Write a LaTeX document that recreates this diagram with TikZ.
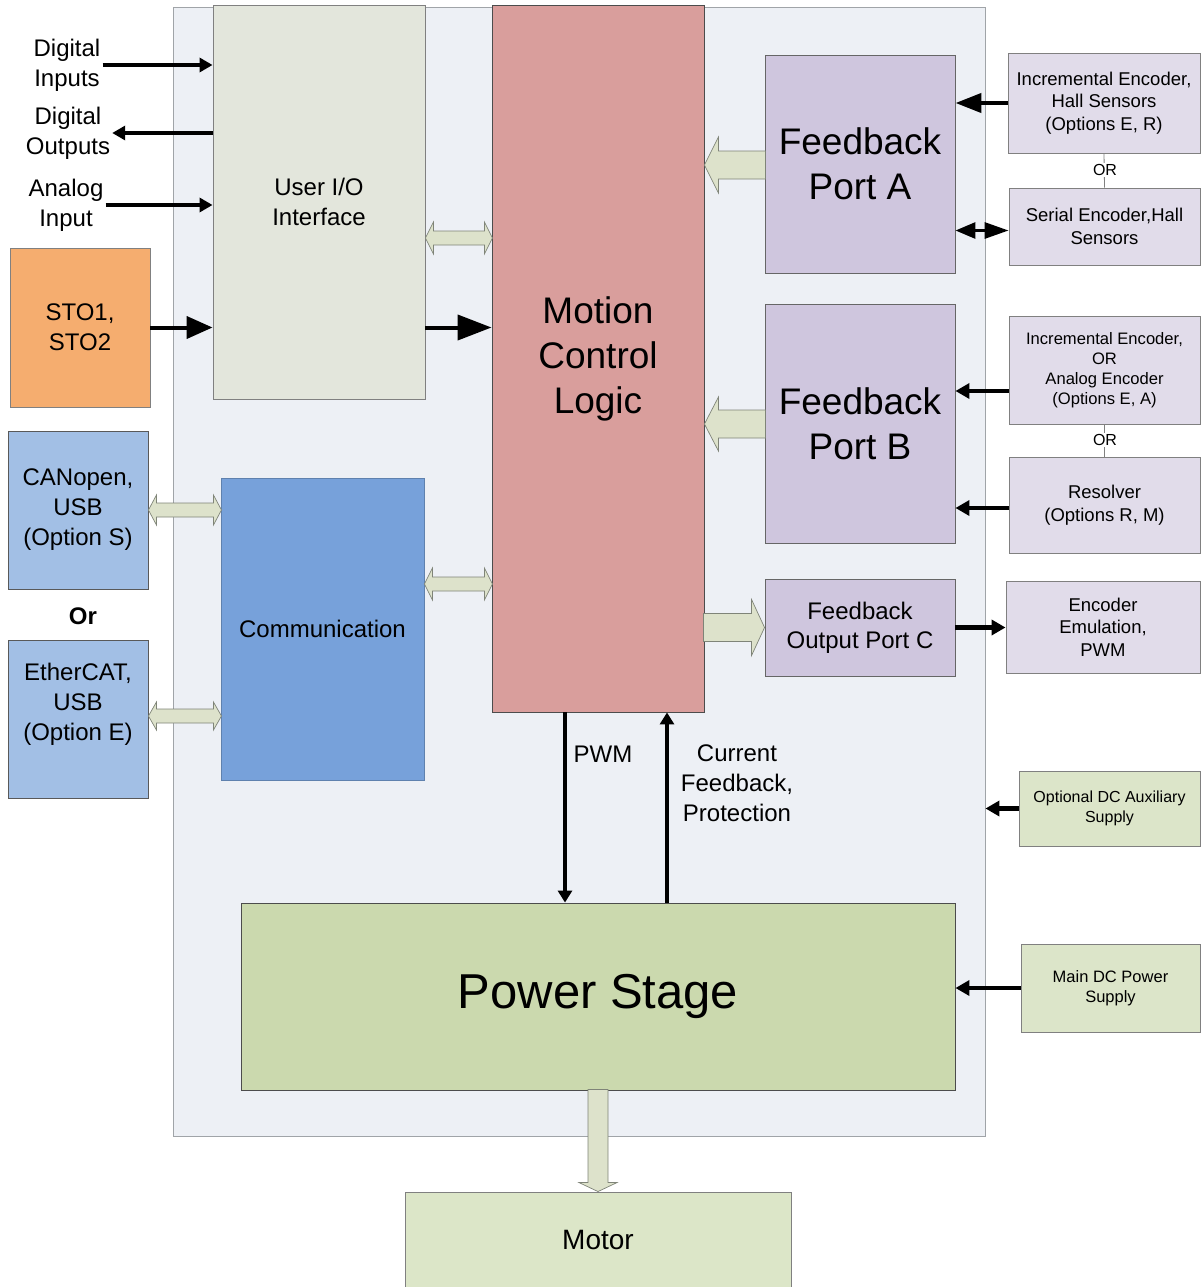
\documentclass[tikz,border=0pt]{standalone}
\usepackage{fontspec}
\setmainfont{Liberation Sans}
\usetikzlibrary{arrows.meta,calc}

\definecolor{housing}{HTML}{EDF0F5}
\definecolor{housingline}{HTML}{A0A4A8}
\definecolor{uiofill}{HTML}{E3E6DC}
\definecolor{mclfill}{HTML}{D99E9C}
\definecolor{portfill}{HTML}{CFC6DE}
\definecolor{sensfill}{HTML}{E1DCEA}
\definecolor{stofill}{HTML}{F5AD6F}
\definecolor{busfill}{HTML}{A2BFE5}
\definecolor{commfill}{HTML}{77A1DA}
\definecolor{pwrfill}{HTML}{CBD9AE}
\definecolor{motorfill}{HTML}{DCE6C8}
\definecolor{supplyfill}{HTML}{DCE5C9}
\definecolor{arrfill}{HTML}{DDE2CB}
\definecolor{arrline}{HTML}{7F8478}

\begin{document}
\begin{tikzpicture}[x=1pt,y=-1pt,
  box/.style={rectangle,inner sep=0pt,align=center,line width=0.9pt,draw=gray!80!black},
  txt/.style={align=center,inner sep=2pt,font=\fontsize{24}{30}\selectfont},
  arr/.style={line width=3.6pt,-{Triangle[length=13pt,width=14pt]}},
  bigarr/.style={line width=4pt,-{Triangle[length=26pt,width=22pt]}},
  rarr/.style={line width=4.2pt,-{Triangle[length=14pt,width=15pt]}},
  hollow/.style={fill=arrfill,draw=arrline,line width=0.7pt,line join=miter},
  orline/.style={draw=gray,line width=0.8pt}]
\useasboundingbox (0,0) rectangle (1200,1287);

%Shape: Rectangle (drive housing)
\node[box,fill=housing,draw=housingline,minimum width=812pt,minimum height=1129pt] (drive) at (579,571.5) {};

%Shape: Rectangle
\node[box,fill=uiofill,draw=gray,minimum width=212pt,minimum height=394pt,txt] (uio) at (319,202) {User I/O\\Interface};
%Shape: Rectangle
\node[box,fill=mclfill,draw=black!70,minimum width=212pt,minimum height=707pt,font=\fontsize{37}{45}\selectfont] (mcl) at (598,358.5) {Motion\\Control\\Logic};
%Shape: Rectangle
\node[box,fill=portfill,draw=black!60,minimum width=190pt,minimum height=218pt,font=\fontsize{37}{45}\selectfont] (fbA) at (860,164) {Feedback\\Port A};
%Shape: Rectangle
\node[box,fill=portfill,draw=black!60,minimum width=190pt,minimum height=239pt,font=\fontsize{37}{45}\selectfont] (fbB) at (860,423.5) {Feedback\\Port B};
%Shape: Rectangle
\node[box,fill=portfill,draw=black!60,minimum width=190pt,minimum height=97pt,font=\fontsize{24}{29}\selectfont] (fbC) at (860,627.5) {Feedback\\Output Port C};
%Shape: Rectangle
\node[box,fill=commfill,draw=commfill!80!black,minimum width=203pt,minimum height=302pt,font=\fontsize{24}{29}\selectfont] (comm) at (322.5,629) {Communication};
%Shape: Rectangle
\node[box,fill=pwrfill,draw=black!70,minimum width=714pt,minimum height=187pt,font=\fontsize{49}{58}\selectfont] (pwr) at (598,996.5) {Power Stage};
%Shape: Rectangle
\node[box,fill=motorfill,draw=gray,minimum width=386pt,minimum height=96pt,font=\fontsize{28}{34}\selectfont] (motor) at (598,1240) {Motor};

%Shape: Rectangle (left side)
\node[box,fill=stofill,draw=gray,minimum width=140pt,minimum height=159pt,font=\fontsize{24}{30}\selectfont] (sto) at (80,327.5) {STO1,\\STO2};
\node[box,fill=busfill,draw=gray!70!black,minimum width=140pt,minimum height=158pt,font=\fontsize{24}{30}\selectfont] (can) at (78,510) {CANopen,\\USB\\(Option S)};
\node[box,fill=busfill,draw=gray!70!black,minimum width=140pt,minimum height=158pt] (ecat) at (78,719) {};
\node[txt] (ecattxt) at ([yshift=15pt]ecat.center) {EtherCAT,\\USB\\(Option E)};

%Shape: Rectangle (right side)
\node[box,fill=sensfill,draw=gray,minimum width=192pt,minimum height=100pt,font=\fontsize{18.5}{22.5}\selectfont] (incA) at (1104,103) {Incremental Encoder,\\Hall Sensors\\(Options E, R)};
\node[box,fill=sensfill,draw=gray,minimum width=191pt,minimum height=77pt,font=\fontsize{18.5}{22.5}\selectfont] (ser) at (1104.5,226.5) {Serial Encoder,Hall\\Sensors};
\node[box,fill=sensfill,draw=gray,minimum width=191pt,minimum height=108pt,font=\fontsize{16.6}{20}\selectfont] (incB) at (1104.5,370) {Incremental Encoder,\\OR\\Analog Encoder\\(Options E, A)};
\node[box,fill=sensfill,draw=gray,minimum width=191pt,minimum height=96pt,font=\fontsize{18.5}{22.5}\selectfont] (res) at (1104.5,505) {Resolver\\(Options R, M)};
\node[box,fill=sensfill,draw=gray,minimum width=194pt,minimum height=92pt,font=\fontsize{18.5}{22.5}\selectfont] (emu) at (1103,627) {Encoder\\Emulation,\\PWM};
\node[box,fill=supplyfill,draw=gray,minimum width=181pt,minimum height=75pt,font=\fontsize{16}{20}\selectfont] (aux) at (1109.5,808.5) {Optional DC Auxiliary\\Supply};
\node[box,fill=supplyfill,draw=gray,minimum width=179pt,minimum height=88pt,font=\fontsize{16.5}{20}\selectfont] (main) at (1110.5,988) {Main DC Power\\Supply};

% Text Node
\node[txt] (din) at (67,65) {Digital\\Inputs};
% Text Node
\node[txt] (dout) at (68,133) {Digital\\Outputs};
% Text Node
\node[txt] (ain) at (66,205) {Analog\\Input};
% Text Node
\node[txt,font=\fontsize{24}{30}\selectfont\bfseries] (or) at (83,616) {Or};
% Text Node
\node[txt] (pwm) at (603,754) {PWM};
% Text Node
\node[txt] (cur) at (737,783) {Current\\Feedback,\\Protection};

%OR links
\draw[orline] (incA.south) -- (ser.north);
\node[fill=white,inner sep=1pt,font=\fontsize{16}{18}\selectfont] (orA) at (1105,170) {OR};
\draw[orline] (incB.south) -- (res.north);
\node[fill=white,inner sep=1pt,font=\fontsize{16}{18}\selectfont] (orB) at (1105,440) {OR};

%Straight Lines
\draw[arr] (din.east) -- (din.east -| uio.west);
\draw[arr] (dout.east -| uio.west) -- (dout.east);
\draw[arr] (ain.east) -- (ain.east -| uio.west);
\draw[bigarr] (sto.east) -- (sto.east -| uio.west);
\draw[bigarr,-{Triangle[length=34pt,width=25pt]}] (uio.east |- sto.east) -- (mcl.west |- sto.east);

%Straight Lines (right side)
\draw[rarr,-{Triangle[length=26pt,width=19pt]}] (incA.west) -- (incA.west -| fbA.east);
\draw[rarr,line width=3pt,{Triangle[length=24pt,width=16pt]}-{Triangle[length=20pt,width=16pt]}] ([yshift=-4pt]ser.west) -- ([yshift=-4pt]ser.west -| fbA.east);
\draw[rarr] ([yshift=-21pt]incB.west) -- ([yshift=-21pt]incB.west -| fbB.east);
\draw[rarr] ([yshift=-3pt]res.west) -- ([yshift=-3pt]res.west -| fbB.east);
\draw[rarr] (fbC.east) -- (fbC.east -| emu.west);
\draw[rarr] (aux.west) -- (aux.west -| drive.east);
\draw[rarr] (main.west) -- (main.west -| pwr.east);

%Straight Lines (PWM, current)
\draw[arr,-{Triangle[length=12pt,width=14pt]}] (mcl.south -| 565,0) -- (pwr.north -| 565,0);
\draw[arr,-{Triangle[length=12pt,width=14pt]}] (pwr.north -| 667,0) -- (mcl.south -| 667,0);

%Shape: Double Arrows
\draw[hollow] (uio.east |- 0,238) -- ++(8,-16) -- ++(0,9) -- ++(51,0) -- ++(0,-9) -- ++(8,16) -- ++(-8,16) -- ++(0,-9) -- ++(-51,0) -- ++(0,9) -- cycle;
\draw[hollow] (comm.east |- 0,584) -- ++(8,-16) -- ++(0,9) -- ++(52,0) -- ++(0,-9) -- ++(8,16) -- ++(-8,16) -- ++(0,-9) -- ++(-52,0) -- ++(0,9) -- cycle;
\draw[hollow] (can.east) -- ++(8,-15) -- ++(0,8) -- ++(57,0) -- ++(0,-8) -- ++(8,15) -- ++(-8,15) -- ++(0,-8) -- ++(-57,0) -- ++(0,8) -- cycle;
\draw[hollow] (ecat.east |- 0,716) -- ++(8,-14) -- ++(0,7) -- ++(57,0) -- ++(0,-7) -- ++(8,14) -- ++(-8,14) -- ++(0,-7) -- ++(-57,0) -- ++(0,7) -- cycle;

%Shape: Block Arrows
\draw[hollow] (mcl.east |- 0,165) -- ++(14,-28) -- ++(0,14) -- ++(47,0) -- ++(0,28) -- ++(-47,0) -- ++(0,14) -- cycle;
\draw[hollow] (mcl.east |- 0,424) -- ++(14,-27) -- ++(0,13) -- ++(47,0) -- ++(0,28) -- ++(-47,0) -- ++(0,13) -- cycle;
\draw[hollow] (fbC.west) -- ++(-13,-28) -- ++(0,14) -- ++(-48,0) -- ++(0,28) -- ++(48,0) -- ++(0,14) -- cycle;
\draw[hollow] (motor.north) -- ++(-19,-9) -- ++(9,0) -- ++(0,-93) -- ++(20,0) -- ++(0,93) -- ++(9,0) -- cycle;

\end{tikzpicture}
\end{document}
